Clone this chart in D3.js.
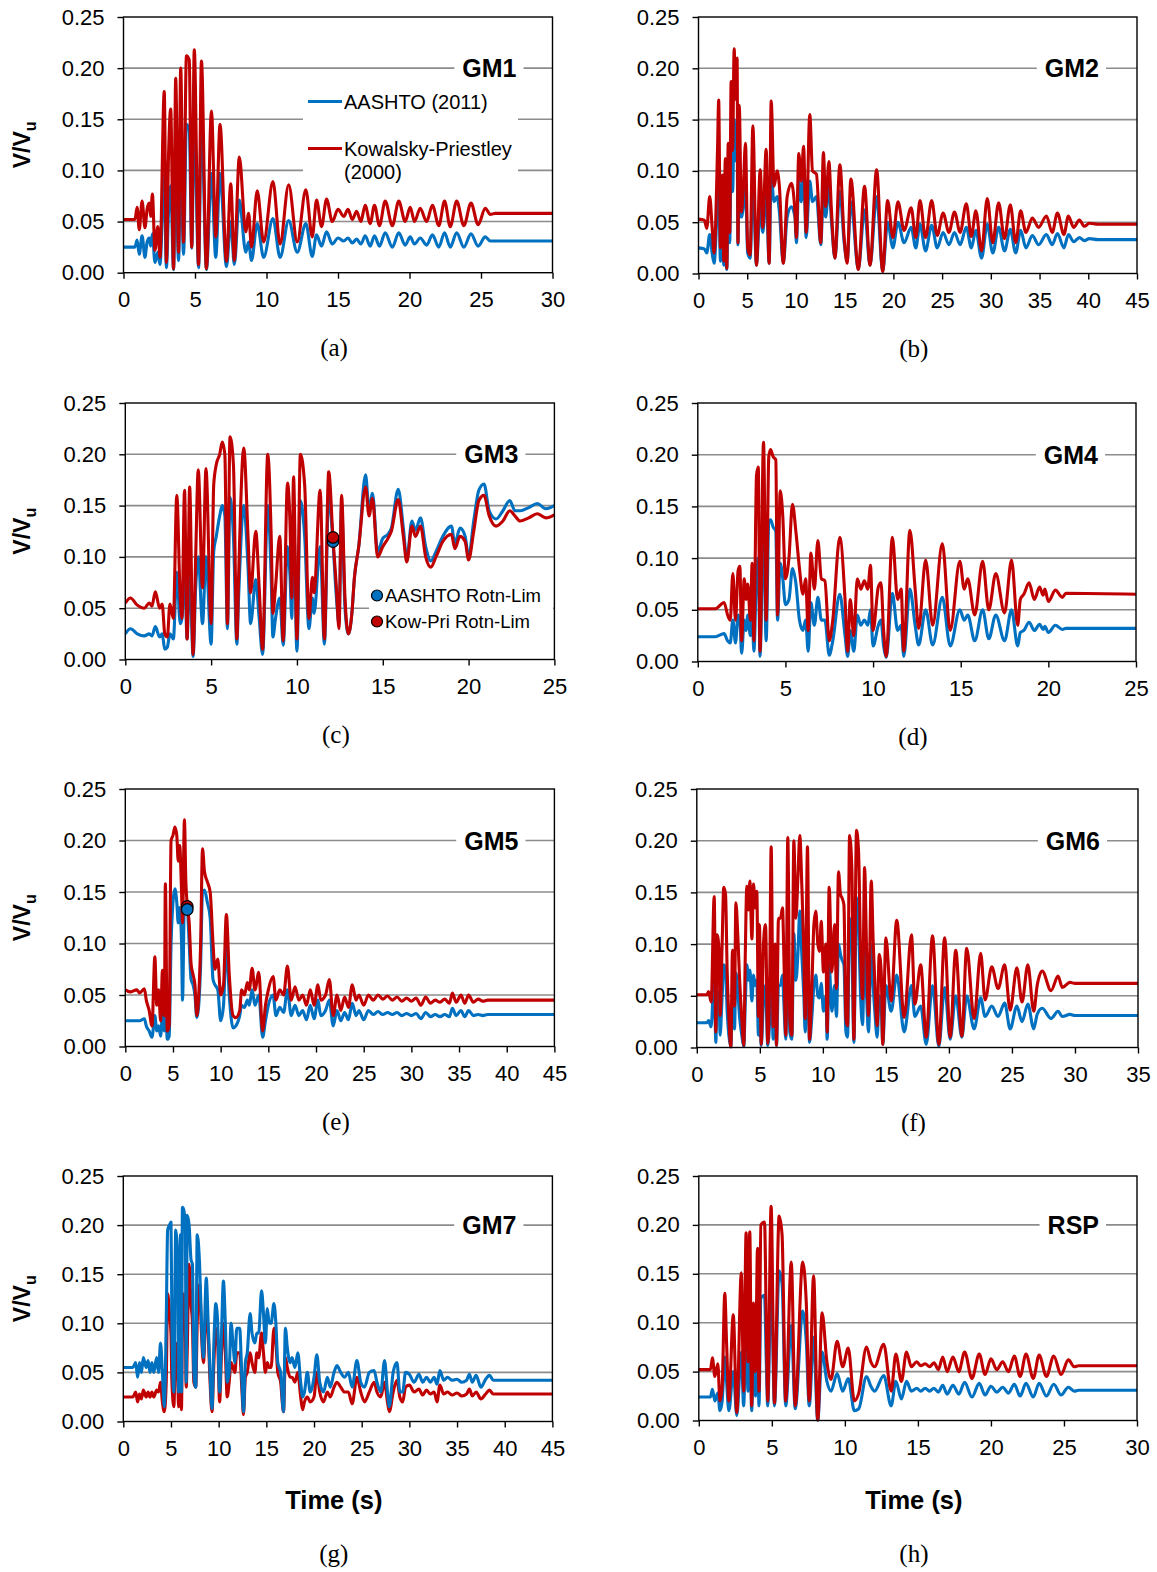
<!DOCTYPE html>
<html><head><meta charset="utf-8">
<script src="https://cdn.jsdelivr.net/npm/d3@7"></script>
<style>body{margin:0;background:#fff}svg{display:block}</style>
</head><body>
<svg id="chart" width="1157" height="1572"></svg>
<script>
// ---------------- DATA: rows are [time (s), AASHTO (2011), Kowalsky-Priestley (2000)] ----------------
const gm1 = [[0,.025,.052],[0.8,.025,.052],[0.95,.032,.064],[1.1,.018,.042],[1.3,.036,.070],[1.5,.015,.044],[1.65,.030,.062],[1.8,.034,.068],[1.9,.026,.055],[2.02,.038,.077],[2.2,.010,.022],[2.4,.020,.045],[2.55,.008,.015],[2.85,.095,.177],[3.0,.005,.010],[3.15,.060,.115],[3.3,.085,.160],[3.5,.003,.004],[3.65,.100,.190],[3.85,.012,.020],[4.0,.110,.200],[4.2,.018,.030],[4.4,.145,.212],[4.6,.140,.208],[4.77,.024,.025],[4.95,.150,.218],[5.25,.005,.008],[5.45,.154,.207],[5.8,.003,.004],[6.15,.097,.158],[6.45,.015,.035],[6.75,.097,.145],[7.2,.006,.011],[7.5,.050,.087],[7.75,.008,.012],[8.1,.071,.113],[8.55,.020,.040],[8.75,.030,.058],[8.95,.012,.025],[9.35,.048,.080],[9.8,.015,.030],[10.45,.053,.089],[10.95,.015,.028],[11.55,.051,.086],[12.15,.020,.030],[12.75,.048,.081],[13.2,.016,.035],[13.5,.037,.071],[13.85,.026,.045],[14.2,.040,.072],[14.6,.028,.050],[15.0,.034,.062],[15.4,.031,.055],[15.7,.034,.062],[16.0,.029,.052],[16.3,.033,.060],[16.6,.028,.050],[16.9,.036,.066],[17.25,.026,.048],[17.55,.036,.066],[17.9,.026,.046],[18.3,.039,.070],[18.8,.025,.046],[19.25,.039,.070],[19.7,.027,.050],[20.05,.035,.064],[20.35,.028,.050],[20.75,.034,.063],[21.2,.027,.050],[21.6,.037,.066],[22.05,.025,.046],[22.45,.039,.070],[22.85,.025,.045],[23.3,.039,.070],[23.8,.025,.046],[24.3,.038,.068],[24.8,.026,.047],[25.3,.035,.063],[25.65,.031,.057],[26.0,.031,.058],[30,.031,.058]];

const gm2 = [[0,.025,.053],[0.6,.024,.052],[0.85,.020,.044],[1.15,.038,.075],[1.4,.020,.045],[1.6,.010,.020],[1.95,.070,.120],[2.07,.090,.169],[2.25,.012,.025],[2.45,.060,.096],[2.6,.008,.012],[2.75,.060,.112],[2.9,.004,.005],[3.05,.070,.127],[3.2,.030,.040],[3.35,.110,.187],[3.5,.080,.120],[3.66,.150,.219],[3.8,.110,.170],[3.96,.140,.210],[4.05,.028,.030],[4.18,.110,.164],[4.4,.055,.060],[4.6,.065,.083],[4.82,.085,.127],[5.05,.020,.025],[5.3,.015,.018],[5.58,.090,.144],[5.95,.008,.008],[6.33,.065,.101],[6.6,.040,.045],[6.94,.080,.121],[7.25,.010,.010],[7.46,.095,.168],[7.75,.070,.085],[8.07,.075,.100],[8.3,.060,.085],[8.7,.010,.010],[9.1,.055,.075],[9.54,.065,.088],[9.9,.055,.060],[10.05,.030,.035],[10.29,.090,.117],[10.55,.070,.090],[10.78,.100,.124],[11.05,.035,.040],[11.42,.090,.155],[11.7,.070,.100],[12.1,.075,.097],[12.55,.028,.030],[12.82,.080,.118],[13.05,.055,.065],[13.38,.085,.109],[13.65,.050,.060],[14.0,.015,.015],[14.51,.080,.106],[14.95,.030,.035],[15.25,.012,.010],[15.64,.070,.092],[16.4,.004,.004],[17.04,.062,.085],[17.6,.008,.008],[18.28,.075,.101],[18.9,.002,.002],[19.41,.050,.071],[19.95,.025,.035],[20.47,.050,.070],[21.1,.030,.042],[21.82,.045,.064],[22.3,.025,.035],[22.73,.048,.071],[23.3,.022,.035],[23.93,.047,.071],[24.5,.025,.037],[25.1,.040,.059],[25.7,.028,.040],[26.27,.040,.060],[26.85,.028,.040],[27.48,.045,.068],[28.0,.025,.036],[28.46,.042,.061],[29.05,.015,.022],[29.63,.048,.073],[30.2,.020,.030],[30.8,.045,.069],[31.4,.022,.034],[32.0,.043,.067],[32.55,.020,.030],[33.06,.042,.061],[33.6,.025,.040],[34.26,.037,.054],[34.9,.028,.045],[35.7,.038,.056],[36.3,.028,.040],[36.83,.039,.059],[37.5,.025,.038],[37.96,.038,.056],[38.5,.031,.045],[39.09,.035,.052],[39.6,.032,.046],[40.1,.034,.049],[41,.033,.048],[45,.033,.048]];

const gm3 = [[0,.025,.055],[0.3,.030,.060],[0.7,.025,.053],[1.1,.023,.050],[1.4,.025,.055],[1.55,.023,.052],[1.75,.032,.066],[2.0,.022,.050],[2.15,.025,.054],[2.3,.010,.025],[2.45,.012,.022],[2.6,.025,.054],[2.8,.020,.040],[3.0,.085,.160],[3.2,.035,.060],[3.3,.040,.040],[3.45,.090,.165],[3.6,.020,.020],[3.75,.090,.168],[3.95,.003,.005],[4.1,.070,.100],[4.25,.100,.185],[4.5,.035,.070],[4.7,.100,.186],[5.0,.015,.035],[5.15,.105,.170],[5.3,.120,.190],[5.5,.140,.200],[5.65,.150,.212],[5.8,.140,.200],[5.95,.030,.035],[6.1,.158,.217],[6.3,.120,.190],[6.5,.015,.020],[6.6,.060,.080],[6.9,.150,.206],[7.15,.090,.120],[7.3,.035,.065],[7.6,.078,.125],[7.8,.040,.070],[8.0,.005,.010],[8.3,.150,.200],[8.5,.080,.120],[8.6,.022,.045],[8.75,.040,.070],[9.0,.060,.120],[9.2,.014,.018],[9.45,.110,.172],[9.6,.080,.130],[9.7,.040,.060],[9.8,.140,.178],[10.0,.008,.020],[10.2,.155,.200],[10.45,.120,.170],[10.7,.030,.040],[10.9,.060,.080],[11.0,.045,.065],[11.35,.110,.165],[11.6,.015,.020],[11.85,.160,.183],[12.1,.114,.118],[12.3,.060,.070],[12.45,.035,.030],[12.6,.150,.160],[12.8,.050,.060],[13.0,.025,.025],[13.2,.045,.045],[13.35,.080,.080],[13.6,.110,.110],[14.0,.180,.168],[14.2,.145,.140],[14.4,.162,.157],[14.7,.105,.100],[15.0,.118,.110],[15.3,.122,.118],[15.5,.128,.125],[15.9,.166,.156],[16.2,.128,.120],[16.4,.098,.095],[16.7,.135,.130],[16.9,.126,.120],[17.2,.138,.130],[17.5,.110,.100],[17.8,.096,.090],[18.1,.105,.100],[18.5,.120,.115],[19.0,.130,.122],[19.2,.113,.108],[19.5,.128,.120],[19.8,.120,.115],[20.0,.100,.097],[20.3,.135,.125],[20.6,.165,.155],[20.9,.171,.160],[21.2,.145,.140],[21.6,.137,.130],[22.0,.145,.135],[22.4,.155,.145],[22.7,.145,.140],[23.0,.145,.135],[23.5,.148,.138],[24.0,.152,.142],[24.5,.147,.138],[25,.150,.141]];

const gm4 = [[0,.024,.051],[1.0,.024,.051],[1.5,.027,.057],[1.7,.020,.045],[1.85,.018,.040],[2.0,.040,.085],[2.15,.018,.040],[2.3,.045,.088],[2.4,.040,.092],[2.5,.008,.020],[2.65,.040,.080],[2.75,.030,.060],[2.85,.045,.075],[3.0,.025,.040],[3.1,.045,.095],[3.2,.010,.020],[3.35,.085,.180],[3.45,.100,.188],[3.55,.005,.010],[3.75,.135,.212],[3.9,.020,.040],[4.05,.135,.198],[4.15,.137,.205],[4.3,.130,.198],[4.45,.126,.195],[4.55,.040,.045],[4.7,.095,.165],[4.85,.080,.140],[5.0,.055,.080],[5.2,.060,.100],[5.4,.090,.152],[5.6,.075,.125],[5.8,.040,.090],[6.0,.030,.065],[6.15,.040,.080],[6.3,.010,.030],[6.45,.057,.105],[6.65,.035,.070],[6.85,.062,.117],[7.05,.040,.080],[7.25,.040,.078],[7.5,.006,.020],[7.7,.020,.040],[8.1,.065,.120],[8.4,.025,.060],[8.55,.005,.010],[8.7,.030,.060],[8.9,.010,.025],[9.1,.045,.080],[9.3,.035,.070],[9.5,.040,.078],[9.7,.035,.070],[9.85,.050,.093],[10.0,.015,.030],[10.3,.035,.072],[10.45,.040,.076],[10.6,.015,.030],[10.75,.004,.005],[11.1,.066,.120],[11.4,.030,.060],[11.6,.035,.070],[11.75,.005,.010],[12.1,.070,.127],[12.4,.035,.070],[12.6,.016,.032],[13.0,.050,.098],[13.4,.016,.035],[13.95,.062,.114],[14.4,.015,.030],[14.95,.050,.097],[15.2,.040,.070],[15.4,.045,.080],[15.8,.020,.045],[16.25,.050,.097],[16.6,.022,.050],[17.0,.045,.085],[17.5,.020,.047],[17.9,.050,.098],[18.25,.015,.035],[18.4,.028,.060],[18.6,.030,.065],[18.9,.038,.076],[19.2,.030,.060],[19.5,.036,.072],[19.7,.031,.064],[19.8,.034,.070],[20.0,.028,.058],[20.4,.035,.069],[20.8,.031,.062],[21.0,.032,.066],[25,.032,.065]];

const gm5 = [[0,.025,.055],[0.5,.025,.053],[1.2,.025,.055],[1.5,.025,.052],[2.0,.027,.056],[2.2,.020,.045],[2.5,.015,.035],[2.8,.009,.020],[3.1,.030,.087],[3.3,.015,.040],[3.5,.020,.055],[3.7,.010,.025],[3.9,.030,.074],[4.1,.015,.030],[4.2,.060,.158],[4.4,.007,.015],[4.6,.010,.020],[4.8,.100,.200],[5.0,.140,.205],[5.2,.153,.213],[5.4,.140,.205],[5.55,.120,.180],[5.7,.135,.195],[5.9,.100,.150],[6.0,.045,.120],[6.2,.140,.220],[6.35,.130,.160],[6.5,.133,.137],[6.7,.100,.120],[6.9,.065,.080],[7.1,.060,.070],[7.3,.050,.060],[7.5,.028,.030],[7.7,.040,.050],[7.9,.080,.100],[8.1,.150,.192],[8.3,.152,.170],[8.6,.140,.160],[8.9,.125,.150],[9.2,.065,.100],[9.4,.060,.075],[9.7,.055,.085],[10.0,.025,.050],[10.3,.040,.060],[10.6,.100,.128],[10.9,.050,.070],[11.3,.018,.030],[11.6,.020,.028],[12.0,.030,.035],[12.2,.040,.055],[12.5,.038,.050],[12.8,.045,.062],[13.0,.040,.055],[13.3,.055,.076],[13.6,.040,.055],[14.0,.050,.072],[14.4,.009,.015],[14.7,.025,.040],[15.0,.040,.055],[15.5,.050,.068],[15.8,.030,.045],[16.2,.038,.055],[16.6,.033,.050],[17.0,.055,.078],[17.4,.030,.045],[17.8,.040,.058],[18.2,.030,.045],[18.6,.035,.050],[19.0,.026,.040],[19.4,.040,.055],[19.8,.027,.040],[20.2,.045,.060],[20.5,.030,.045],[21.0,.035,.050],[21.4,.045,.065],[21.8,.020,.030],[22.2,.035,.050],[22.6,.025,.035],[23.0,.033,.048],[23.4,.026,.038],[23.8,.042,.060],[24.2,.030,.045],[24.5,.035,.050],[25.0,.026,.040],[25.5,.035,.050],[26.0,.031,.045],[26.5,.034,.050],[27.0,.031,.046],[27.5,.033,.049],[28.0,.031,.045],[28.5,.033,.048],[29.0,.030,.044],[29.5,.032,.047],[30.0,.030,.044],[30.5,.032,.047],[31.0,.027,.040],[31.5,.033,.048],[32.0,.029,.042],[32.5,.031,.045],[33.0,.029,.043],[33.5,.031,.046],[34.0,.029,.042],[34.3,.037,.052],[34.7,.030,.043],[35.2,.035,.050],[35.6,.029,.042],[36.0,.035,.050],[36.5,.030,.043],[37.0,.031,.046],[37.5,.030,.044],[38.0,.031,.045],[45,.031,.045]];

const gm6 = [[0,.024,.051],[0.8,.024,.051],[0.93,.026,.054],[1.14,.020,.044],[1.38,.070,.146],[1.51,.005,.015],[1.61,.055,.109],[1.77,.045,.093],[1.85,.012,.031],[2.01,.050,.100],[2.14,.080,.155],[2.28,.075,.148],[2.41,.035,.073],[2.54,.012,.030],[2.7,.001,.000],[2.83,.045,.094],[2.99,.018,.040],[3.1,.072,.140],[3.25,.055,.109],[3.39,.030,.067],[3.57,.012,.028],[3.73,.001,.002],[3.84,.040,.085],[3.97,.080,.156],[4.1,.065,.133],[4.21,.075,.161],[4.37,.045,.105],[4.5,.070,.158],[4.63,.060,.135],[4.76,.065,.151],[4.89,.012,.030],[4.97,.055,.119],[5.11,.002,.003],[5.29,.045,.100],[5.45,.060,.119],[5.63,.002,.004],[5.79,.030,.073],[5.9,.075,.194],[6.06,.008,.020],[6.22,.045,.100],[6.32,.002,.002],[6.48,.060,.125],[6.64,.060,.125],[6.8,.070,.135],[6.9,.045,.093],[7.06,.008,.012],[7.22,.120,.203],[7.38,.015,.028],[7.54,.008,.012],[7.7,.110,.200],[7.86,.065,.125],[8.02,.090,.164],[8.17,.132,.205],[8.33,.090,.157],[8.49,.050,.093],[8.6,.015,.028],[8.78,.100,.194],[8.94,.005,.008],[9.13,.030,.060],[9.29,.060,.119],[9.44,.070,.132],[9.6,.050,.100],[9.74,.048,.093],[9.87,.062,.122],[10.05,.035,.073],[10.24,.050,.100],[10.34,.008,.015],[10.5,.080,.155],[10.71,.035,.073],[10.93,.060,.119],[11.08,.030,.057],[11.24,.100,.170],[11.4,.090,.148],[11.51,.085,.145],[11.67,.080,.138],[11.83,.015,.028],[11.96,.010,.021],[12.12,.125,.205],[12.3,.100,.173],[12.46,.005,.008],[12.67,.145,.210],[12.83,.120,.190],[12.99,.050,.093],[13.15,.022,.047],[13.31,.100,.174],[13.47,.050,.093],[13.62,.015,.031],[13.84,.100,.161],[13.99,.060,.103],[14.15,.030,.054],[14.31,.010,.021],[14.47,.050,.090],[14.63,.040,.073],[14.75,.003,.003],[15.0,.060,.106],[15.42,.035,.045],[15.86,.070,.123],[16.45,.015,.029],[17.03,.060,.109],[17.3,.030,.042],[17.76,.040,.080],[18.2,.003,.010],[18.7,.060,.108],[19.2,.001,.003],[19.66,.058,.106],[20.1,.008,.010],[20.54,.050,.094],[21.03,.010,.011],[21.41,.050,.096],[22.0,.018,.028],[22.52,.048,.091],[22.87,.030,.046],[23.4,.040,.078],[23.9,.030,.057],[24.42,.043,.080],[24.86,.018,.036],[25.39,.040,.077],[25.8,.025,.044],[26.26,.042,.080],[26.73,.018,.035],[27.0,.032,.060],[27.4,.038,.074],[28.1,.028,.055],[28.66,.035,.069],[29.0,.030,.058],[29.6,.032,.063],[30.0,.031,.062],[35,.031,.062]];

const gm7 = [[0,.055,.025],[1.0,.055,.025],[1.3,.060,.030],[1.5,.045,.020],[1.7,.060,.028],[1.9,.050,.023],[2.1,.065,.032],[2.4,.055,.025],[2.6,.062,.030],[2.8,.050,.025],[3.0,.060,.030],[3.2,.050,.025],[3.5,.065,.032],[3.7,.050,.030],[3.9,.080,.040],[4.1,.050,.020],[4.3,.015,.010],[4.5,.100,.040],[4.65,.195,.130],[4.85,.200,.110],[5.0,.203,.090],[5.1,.100,.040],[5.3,.030,.015],[5.5,.195,.080],[5.7,.160,.050],[5.8,.030,.015],[6.0,.190,.080],[6.1,.030,.012],[6.2,.218,.100],[6.35,.215,.130],[6.5,.200,.100],[6.6,.040,.035],[6.7,.210,.070],[6.9,.200,.160],[7.1,.165,.120],[7.25,.160,.100],[7.4,.050,.040],[7.6,.035,.035],[7.75,.190,.100],[8.0,.160,.140],[8.2,.100,.090],[8.4,.065,.060],[8.7,.146,.115],[8.9,.100,.090],[9.1,.050,.040],[9.3,.013,.010],[9.5,.080,.060],[9.7,.120,.095],[9.9,.100,.080],[10.1,.030,.020],[10.3,.090,.070],[10.5,.143,.100],[10.7,.100,.070],[10.9,.040,.025],[11.1,.050,.040],[11.3,.100,.060],[11.5,.080,.055],[11.7,.060,.050],[11.9,.095,.070],[12.2,.095,.070],[12.45,.040,.030],[12.6,.010,.007],[12.8,.060,.045],[13.0,.070,.050],[13.3,.110,.070],[13.5,.090,.060],[13.8,.080,.050],[14.0,.090,.070],[14.2,.090,.065],[14.5,.133,.090],[14.7,.110,.070],[14.9,.080,.050],[15.1,.115,.060],[15.3,.100,.055],[15.5,.100,.055],[15.8,.120,.095],[16.0,.100,.080],[16.2,.060,.050],[16.5,.050,.040],[16.8,.010,.010],[17.0,.095,.065],[17.2,.075,.055],[17.5,.060,.045],[17.7,.065,.045],[18.0,.055,.040],[18.3,.070,.050],[18.6,.040,.025],[18.8,.025,.012],[19.0,.030,.020],[19.3,.050,.025],[19.6,.030,.020],[20.0,.045,.025],[20.3,.068,.050],[20.6,.040,.030],[21.0,.030,.020],[21.4,.045,.030],[21.7,.035,.025],[22.1,.050,.035],[22.4,.057,.040],[22.8,.050,.035],[23.2,.045,.030],[23.6,.050,.030],[24.0,.035,.018],[24.5,.062,.045],[24.9,.040,.030],[25.3,.035,.020],[25.8,.050,.030],[26.3,.052,.040],[26.6,.040,.030],[27.0,.030,.025],[27.4,.062,.040],[27.7,.030,.020],[27.9,.015,.010],[28.3,.050,.030],[28.7,.060,.042],[29.0,.030,.025],[29.3,.030,.020],[29.6,.050,.035],[30.0,.048,.037],[30.5,.040,.030],[31.0,.048,.033],[31.4,.040,.027],[31.8,.045,.032],[32.2,.040,.028],[32.6,.045,.030],[32.9,.038,.020],[33.2,.052,.037],[33.6,.042,.028],[34.0,.045,.030],[34.5,.042,.027],[35.0,.043,.029],[35.5,.040,.026],[36.0,.042,.028],[36.3,.048,.033],[36.6,.040,.026],[37.0,.047,.030],[37.5,.035,.023],[38.0,.043,.028],[38.4,.047,.032],[38.8,.042,.028],[45,.042,.028]];

const rsp = [[0,.024,.052],[0.8,.024,.052],[0.93,.032,.064],[1.1,.020,.045],[1.3,.028,.058],[1.45,.010,.020],[1.6,.020,.035],[1.78,.065,.130],[1.9,.040,.080],[2.06,.010,.020],[2.36,.050,.108],[2.6,.005,.008],[2.91,.070,.151],[3.07,.015,.030],[3.24,.095,.192],[3.37,.030,.060],[3.49,.095,.193],[3.62,.010,.015],[3.74,.060,.120],[3.88,.025,.050],[4.02,.090,.176],[4.12,.015,.030],[4.25,.125,.200],[4.5,.128,.203],[4.62,.060,.100],[4.72,.015,.020],[4.95,.148,.219],[5.18,.015,.018],[5.5,.153,.209],[5.7,.140,.190],[5.95,.015,.020],[6.33,.097,.162],[6.6,.012,.015],[7.11,.112,.162],[7.36,.080,.120],[7.56,.015,.020],[7.86,.085,.148],[8.14,.000,.000],[8.44,.070,.110],[8.77,.040,.060],[9.05,.030,.042],[9.47,.048,.081],[9.85,.030,.055],[10.23,.043,.074],[10.65,.010,.020],[10.95,.012,.028],[11.48,.045,.075],[11.78,.035,.060],[12.03,.030,.055],[12.66,.046,.078],[13.17,.015,.030],[13.49,.040,.068],[13.87,.022,.040],[14.22,.040,.070],[14.55,.030,.055],[14.92,.033,.060],[15.2,.030,.056],[15.5,.033,.058],[15.8,.030,.055],[16.1,.033,.059],[16.4,.029,.052],[16.7,.036,.065],[17.0,.027,.050],[17.4,.036,.065],[17.8,.027,.050],[18.2,.039,.070],[18.7,.024,.043],[19.2,.038,.068],[19.6,.026,.047],[20.0,.035,.063],[20.4,.029,.052],[20.8,.034,.060],[21.2,.028,.050],[21.6,.037,.066],[22.0,.025,.045],[22.4,.038,.068],[22.9,.024,.043],[23.3,.038,.067],[23.8,.025,.045],[24.3,.037,.066],[24.8,.026,.047],[25.3,.034,.062],[25.7,.030,.055],[26.0,.031,.056],[30,.031,.056]];

// Rotation-limit markers: [time, AASHTO value, Kow-Pri value]
const gm3RotnLim = [[12.1, 0.115, 0.119]];
const gm5RotnLim = [[6.5, 0.133, 0.136]];

const yTickValues = [0, 0.05, 0.10, 0.15, 0.20, 0.25];
const gridValues = [0.05, 0.10, 0.15, 0.20];
const seriesNames = ["AASHTO (2011)", "Kowalsky-Priestley", "(2000)"];
const markerNames = ["AASHTO Rotn-Lim", "Kow-Pri Rotn-Lim"];
const panelLabels = ["GM1","GM2","GM3","GM4","GM5","GM6","GM7","RSP"];
const captions = ["(a)","(b)","(c)","(d)","(e)","(f)","(g)","(h)"];
const xMaxes = [30, 45, 25, 25, 45, 35, 45, 30];
const xSteps = [5, 5, 5, 5, 5, 5, 5, 5];
const datasets = [gm1, gm2, gm3, gm4, gm5, gm6, gm7, rsp];

// ---------------- LAYOUT ----------------
const BLUE = "#0070C0", RED = "#C00000";
const SANS = "'Liberation Sans', Arial, Helvetica, sans-serif";
const SERIF = "'Liberation Serif', 'Times New Roman', serif";
const LW = 3.1;
const boxes = [
  [123.5, 17, 552.5, 272.7],
  [698.5, 17, 1137, 273.5],
  [125.3, 403, 554.4, 659.5],
  [697.8, 403, 1136, 661.5],
  [125.3, 789, 554.4, 1046.5],
  [696.8, 789, 1138, 1047.5],
  [123.3, 1176, 552.4, 1421.5],
  [698.8, 1176, 1137, 1420.5]
];

const svg = d3.select("#chart");
svg.append("rect").attr("width",1157).attr("height",1572).attr("fill","#fff");

datasets.forEach((data, i) => {
  const [x0, y0, x1, y1] = boxes[i];
  const col = i % 2;
  const x = d3.scaleLinear().domain([0, xMaxes[i]]).range([x0, x1]);
  const y = d3.scaleLinear().domain([0, 0.25]).range([y1, y0]);
  const g = svg.append("g");

  // grid
  g.selectAll("line.grid").data(gridValues).join("line")
    .attr("x1", x0).attr("x2", x1).attr("y1", d => y(d)).attr("y2", d => y(d))
    .attr("stroke", "#8c8c8c").attr("stroke-width", 1.6);

  // axes
  const yAxis = d3.axisLeft(y).tickValues(yTickValues).tickFormat(d3.format(".2f")).tickSize(6).tickPadding(13);
  const xAxis = d3.axisBottom(x).tickValues(d3.range(0, xMaxes[i] + 0.001, xSteps[i])).tickFormat(d3.format("d")).tickSize(6).tickPadding(13);
  const ya = g.append("g").attr("transform", `translate(${x0},0)`).call(yAxis);
  const xa = g.append("g").attr("transform", `translate(0,${y1})`).call(xAxis);
  [ya, xa].forEach(a => {
    a.select(".domain").remove();
    a.selectAll(".tick line").attr("stroke", "#000").attr("stroke-width", 1.4);
    a.selectAll(".tick text").attr("font-family", SANS).attr("font-size", 22).attr("fill", "#000");
  });

  // legend boxes (white backgrounds that hide grid)
  if (i === 0) {
    g.append("rect").attr("x", 303).attr("y", 86).attr("width", 215).attr("height", 102).attr("fill", "#fff");
  }
  if (i === 2) {
    g.append("rect").attr("x", 369).attr("y", 580).attr("width", 184).attr("height", 56).attr("fill", "#fff");
  }

  // panel label with white box on 0.20 grid line
  const labelRight = col === 0 ? x1 - 36 : x1 - 38;
  const lbl = g.append("text").attr("x", labelRight).attr("y", y(0.20)).attr("text-anchor", "end")
    .attr("dominant-baseline", "central").attr("font-family", SANS).attr("font-weight", "bold")
    .attr("font-size", 25).attr("fill", "#000").text(panelLabels[i]);
  const bb = lbl.node().getBBox();
  g.append("rect").attr("x", bb.x - 8).attr("y", y(0.20) - 4).attr("width", bb.width + 15).attr("height", 8).attr("fill", "#fff");
  lbl.raise();

  // lines
  const lineA = d3.line().x(d => x(d[0])).y(d => y(d[1])).curve(d3.curveMonotoneX);
  const lineK = d3.line().x(d => x(d[0])).y(d => y(d[2])).curve(d3.curveMonotoneX);
  const clipId = "clip" + i;
  svg.append("clipPath").attr("id", clipId).append("rect").attr("x", x0).attr("y", y0 - 2).attr("width", x1 - x0).attr("height", y1 - y0 + 3);
  const lg = g.append("g").attr("clip-path", `url(#${clipId})`);
  const pathA = () => lg.append("path").datum(data).attr("d", lineA).attr("fill", "none").attr("stroke", BLUE).attr("stroke-width", LW).attr("stroke-linejoin", "round");
  const pathK = () => lg.append("path").datum(data).attr("d", lineK).attr("fill", "none").attr("stroke", RED).attr("stroke-width", LW).attr("stroke-linejoin", "round");
  if (i === 6) { pathK(); pathA(); } else { pathA(); pathK(); }

  // frame
  g.append("rect").attr("x", x0).attr("y", y0).attr("width", x1 - x0).attr("height", y1 - y0)
    .attr("fill", "none").attr("stroke", "#000").attr("stroke-width", 1.4);

  // rotation-limit markers
  if (i === 2) {
    gm3RotnLim.forEach(d => {
      g.append("circle").attr("cx", x(d[0])).attr("cy", y(d[1])).attr("r", 5.8).attr("fill", BLUE).attr("stroke", "#000").attr("stroke-width", 1.2);
      g.append("circle").attr("cx", x(d[0])).attr("cy", y(d[2])).attr("r", 5.8).attr("fill", RED).attr("stroke", "#000").attr("stroke-width", 1.2);
    });
  }
  if (i === 4) {
    gm5RotnLim.forEach(d => {
      g.append("circle").attr("cx", x(d[0])).attr("cy", y(d[2])).attr("r", 5.8).attr("fill", RED).attr("stroke", "#000").attr("stroke-width", 1.2);
      g.append("circle").attr("cx", x(d[0])).attr("cy", y(d[1])).attr("r", 5.8).attr("fill", BLUE).attr("stroke", "#000").attr("stroke-width", 1.2);
    });
  }

  // legends
  if (i === 0) {
    g.append("line").attr("x1", 308).attr("x2", 342).attr("y1", 101.5).attr("y2", 101.5).attr("stroke", BLUE).attr("stroke-width", LW);
    g.append("line").attr("x1", 308).attr("x2", 342).attr("y1", 148.5).attr("y2", 148.5).attr("stroke", RED).attr("stroke-width", LW);
    const lt = (t, yy) => g.append("text").attr("x", 344).attr("y", yy).attr("dominant-baseline", "central")
      .attr("font-family", SANS).attr("font-size", 20).attr("fill", "#000").text(t);
    lt(seriesNames[0], 101.5); lt(seriesNames[1], 148.5); lt(seriesNames[2], 171.5);
  }
  if (i === 2) {
    const items = [[BLUE, markerNames[0], 595.5], [RED, markerNames[1], 621.5]];
    items.forEach(([c, t, yy]) => {
      g.append("circle").attr("cx", 377).attr("cy", yy).attr("r", 5.5).attr("fill", c).attr("stroke", "#000").attr("stroke-width", 1.2);
      g.append("text").attr("x", 385).attr("y", yy).attr("dominant-baseline", "central")
        .attr("font-family", SANS).attr("font-size", 18.5).attr("fill", "#000").text(t);
    });
  }

  // y-axis title for left column
  if (col === 0) {
    const cy = (y0 + y1) / 2;
    const t = g.append("text").attr("transform", `translate(30,${cy}) rotate(-90)`).attr("text-anchor", "middle")
      .attr("font-family", SANS).attr("font-weight", "bold").attr("font-size", 23).attr("fill", "#000");
    t.append("tspan").text("V/V");
    t.append("tspan").attr("font-size", 16).attr("dy", 6).text("u");
  }

  // x-axis title for bottom row
  if (i >= 6) {
    g.append("text").attr("x", (x0 + x1) / 2 - 4).attr("y", 1509).attr("text-anchor", "middle")
      .attr("font-family", SANS).attr("font-weight", "bold").attr("font-size", 25.5).attr("fill", "#000").text("Time (s)");
  }

  // caption
  const capY = i < 6 ? y1 + 83 : 1562;
  g.append("text").attr("x", (x0 + x1) / 2 - 4).attr("y", capY).attr("text-anchor", "middle")
    .attr("font-family", SERIF).attr("font-size", 25).attr("fill", "#000").text(captions[i]);
});
</script>
</body></html>
